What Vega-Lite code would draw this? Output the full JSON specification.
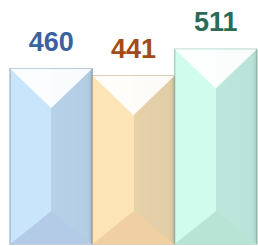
{
  "$schema": "https://vega.github.io/schema/vega-lite/v6.json",
  "width": 258,
  "height": 246,
  "autosize": {"type": "fit", "contains": "padding"},
  "padding": {"left": 9, "top": 0, "right": 0, "bottom": 1},
  "background": "white",
  "config": {"view": {"stroke": null}},
  "data": {
    "values": [
      {"cat": "A", "value": 460},
      {"cat": "B", "value": 441},
      {"cat": "C", "value": 511}
    ]
  },
  "encoding": {
    "x": {"field": "cat", "type": "nominal", "axis": null, "scale": {"paddingInner": 0, "paddingOuter": 0}},
    "y": {"field": "value", "type": "quantitative", "axis": null, "scale": {"domain": [0, 640], "nice": false}}
  },
  "resolve": {"scale": {"color": "independent", "stroke": "independent"}},
  "layer": [
    {
      "mark": {"type": "bar", "strokeWidth": 1.5, "strokeOpacity": 0.7},
      "encoding": {
        "color": {"field": "cat", "type": "nominal", "legend": null, "scale": {"domain": ["A", "B", "C"], "range": ["#c9e5fb", "#fde4b6", "#d0fcee"]}},
        "stroke": {"field": "cat", "type": "nominal", "legend": null, "scale": {"domain": ["A", "B", "C"], "range": ["#8fa9c0", "#c9a982", "#93c2b2"]}}
      }
    },
    {
      "mark": {
        "type": "bar",
        "color": {
          "gradient": "linear", "x1": 0, "y1": 0, "x2": 1, "y2": 0,
          "stops": [
            {"offset": 0, "color": "rgba(0,20,40,0)"},
            {"offset": 0.5, "color": "rgba(0,20,40,0)"},
            {"offset": 0.5, "color": "rgba(0,20,40,0.09)"},
            {"offset": 0.94, "color": "rgba(0,20,40,0.11)"},
            {"offset": 1, "color": "rgba(0,20,40,0.2)"}
          ]
        }
      }
    },
    {
      "mark": {"type": "point", "shape": "M-1,0L1,0L0,0.96Z", "filled": true, "size": 6700, "opacity": 0.92, "color": "white", "strokeWidth": 0}
    },
    {
      "mark": {"type": "point", "shape": "M-1,0L1,0L0,-0.8Z", "filled": true, "size": 6700, "opacity": 1, "strokeWidth": 0},
      "encoding": {
        "y": {"datum": 0, "type": "quantitative"},
        "color": {"field": "cat", "type": "nominal", "legend": null, "scale": {"domain": ["A", "B", "C"], "range": ["#b3cbe6", "#f0d0a2", "#b8e4d6"]}}
      }
    },
    {
      "mark": {"type": "text", "font": "Liberation Sans", "fontWeight": "bold", "fontSize": 27, "baseline": "alphabetic", "dy": -18},
      "encoding": {
        "text": {"field": "value", "type": "quantitative"},
        "color": {"field": "cat", "type": "nominal", "legend": null, "scale": {"domain": ["A", "B", "C"], "range": ["#3a62a0", "#a04c16", "#2a6a56"]}}
      }
    }
  ]
}
